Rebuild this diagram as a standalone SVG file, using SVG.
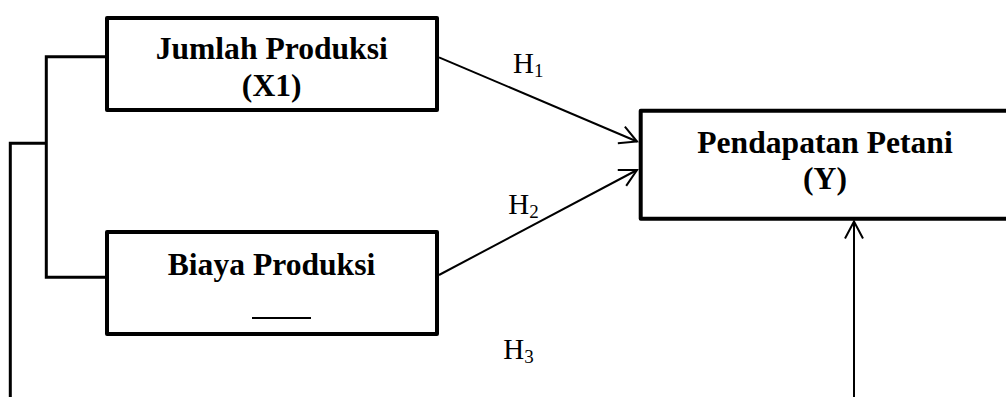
<svg xmlns="http://www.w3.org/2000/svg" width="1006" height="397" viewBox="0 0 1006 397">
  <style>
    .box { fill: #fff; stroke: #000; stroke-width: 4; stroke-linejoin: round; }
    .lbl { font-family: "Liberation Serif", "Times New Roman", serif; font-weight: bold; font-size: 31.6px; fill: #000; text-anchor: middle; }
    .h { font-family: "Liberation Serif", "Times New Roman", serif; font-size: 29px; fill: #000; }
    .sub { font-size: 19px; }
    .brk { fill: none; stroke: #000; stroke-width: 3; stroke-linejoin: miter; }
    .arr { fill: none; stroke: #000; stroke-width: 2; marker-end: url(#open); }
  </style>
  <defs>
    <marker id="open" viewBox="-20 -12 22 24" markerWidth="22" markerHeight="24" refX="0" refY="0" orient="auto" markerUnits="userSpaceOnUse">
      <path d="M-17,-9 L0,0 L-17,9" fill="none" stroke="#000" stroke-width="2"/>
    </marker>
  </defs>
  <rect x="0" y="0" width="1006" height="397" fill="#fff"/>

  <g id="connectors">
    <polyline class="brk" points="107,56.7 46.3,56.7 46.3,277.3 107,277.3"/>
    <polyline class="brk" points="46.3,143.3 10.3,143.3 10.3,397"/>
    <line class="arr" x1="439" y1="57.3" x2="637" y2="141.5"/>
    <line class="arr" x1="439" y1="275" x2="637" y2="170"/>
    <line class="arr" x1="854" y1="397" x2="854" y2="221.5"/>
  </g>

  <g id="x1">
    <rect class="box" x="107" y="18" width="330" height="92"/>
    <text class="lbl" x="271.7" y="59">Jumlah Produksi</text>
    <text class="lbl" x="271.7" y="95.5">(X1)</text>
  </g>

  <g id="x2">
    <rect class="box" x="107" y="232" width="330" height="102"/>
    <text class="lbl" x="271.5" y="275">Biaya Produksi</text>
    <line x1="252" y1="318" x2="311" y2="318" stroke="#000" stroke-width="2"/>
  </g>

  <g id="y">
    <rect class="box" x="640.7" y="110.7" width="400" height="108"/>
    <text class="lbl" x="825" y="153">Pendapatan Petani</text>
    <text class="lbl" x="825" y="189">(Y)</text>
  </g>

  <g id="labels">
    <text class="h" x="513" y="73.3">H<tspan class="sub" dy="3.2">1</tspan></text>
    <text class="h" x="508.3" y="214">H<tspan class="sub" dy="3.5">2</tspan></text>
    <text class="h" x="503.3" y="359.3">H<tspan class="sub" dy="3.2">3</tspan></text>
  </g>
</svg>
